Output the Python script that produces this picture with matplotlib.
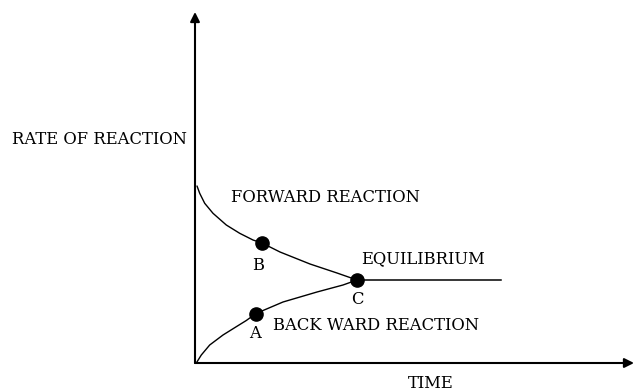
import matplotlib
matplotlib.use("Agg")
import matplotlib.pyplot as plt

# Curves (time, rate), arbitrary units
fwd_time = [0.2, 0.47, 0.97, 1.8, 3.13, 4.47, 5.8, 6.7, 8.5, 11.5, 14.2, 16.2]
fwd_rate = [17.7, 16.97, 15.97, 14.97, 13.8, 12.97, 12.3, 12.0, 11.1, 9.9, 9.0, 8.3]

back_time = [0.13, 0.63, 1.47, 2.8, 4.13, 5.13, 6.1, 8.8, 12.2, 14.8, 16.2]
back_rate = [0.0, 0.8, 1.8, 2.8, 3.63, 4.25, 4.95, 6.1, 7.1, 7.8, 8.3]

eq_time = [16.2, 30.6]
eq_rate = [8.3, 8.3]

point_names = ["A", "B", "C"]
point_time = [6.1, 6.7, 16.2]
point_rate = [4.95, 12.0, 8.3]

x_axis_end = 43.9
y_axis_end = 35.1

fig = plt.figure(figsize=(6.35, 3.91), dpi=100)
ax = fig.add_axes([0, 0, 1, 1])
ax.set_xlim(-19.5, 44.0)
ax.set_ylim(-2.8, 36.3)
ax.axis('off')

font = dict(family='DejaVu Serif', fontsize=11.8, color='black')

# Axes with arrow heads
arrow = dict(arrowstyle='-|>', lw=1.5, color='black', mutation_scale=14, shrinkA=0, shrinkB=0)
ax.annotate('', xy=(0, y_axis_end), xytext=(0, 0), arrowprops=arrow)
ax.annotate('', xy=(x_axis_end, 0), xytext=(0, 0), arrowprops=arrow)

# Curves
line_style = dict(color='black', lw=1.0, solid_joinstyle='round', solid_capstyle='round')
ax.plot(fwd_time, fwd_rate, **line_style)
ax.plot(back_time, back_rate, **line_style)
ax.plot(eq_time, eq_rate, color='black', lw=1.1)
ax.plot(point_time, point_rate, 'o', color='black', markersize=9.5)

# Labels
ax.text(-18.3, 22.3, "RATE OF REACTION", ha='left', va='center', **font)
ax.text(3.6, 16.5, "FORWARD REACTION", ha='left', va='center', **font)
ax.text(16.6, 10.4, "EQUILIBRIUM", ha='left', va='center', **font)
ax.text(7.8, 3.8, "BACK WARD REACTION", ha='left', va='center', **font)
ax.text(21.3, -2.0, "TIME", ha='left', va='center', **font)

label_offsets = {"A": (-0.1, -2.05), "B": (-0.4, -2.2), "C": (0.0, -1.9)}
for name, t, r in zip(point_names, point_time, point_rate):
    dx, dy = label_offsets[name]
    ax.text(t + dx, r + dy, name, ha='center', va='center', **font)

fig.savefig("out.png", dpi=100)
